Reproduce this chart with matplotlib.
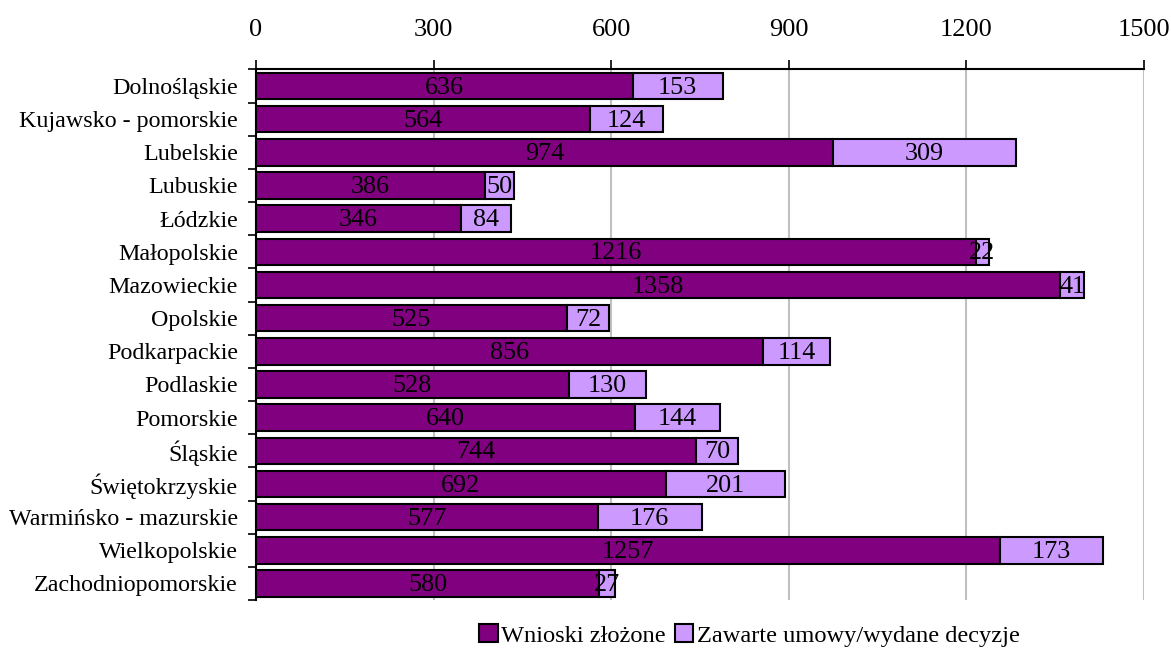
import matplotlib
matplotlib.use("Agg")
import matplotlib.pyplot as plt
import numpy as np

categories = ["Dolnośląskie", "Kujawsko - pomorskie", "Lubelskie", "Lubuskie", "Łódzkie",
              "Małopolskie", "Mazowieckie", "Opolskie", "Podkarpackie", "Podlaskie",
              "Pomorskie", "Śląskie", "Świętokrzyskie", "Warmińsko - mazurskie",
              "Wielkopolskie", "Zachodniopomorskie"]
wnioski = [636, 564, 974, 386, 346, 1216, 1358, 525, 856, 528, 640, 744, 692, 577, 1257, 580]
umowy = [153, 124, 309, 50, 84, 22, 41, 72, 114, 130, 144, 70, 201, 176, 173, 27]
series_names = ["Wnioski złożone", "Zawarte umowy/wydane decyzje"]
xticks = [0, 300, 600, 900, 1200, 1500]

plt.rcParams['font.family'] = ['Liberation Serif', 'DejaVu Serif']

fig = plt.figure(figsize=(11.71, 6.48), dpi=100)
ax = fig.add_axes([0.2186, 0.074, 0.977 - 0.2186, 0.893 - 0.074])

y = np.arange(len(categories))
c1, c2 = "#800080", "#CC99FF"
b1 = ax.barh(y, wnioski, height=0.8, color=c1, edgecolor="black", linewidth=1.5, label=series_names[0], zorder=3)
b2 = ax.barh(y, umowy, left=wnioski, height=0.8, color=c2, edgecolor="black", linewidth=1.5, label=series_names[1], zorder=3)
for bars in (b1, b2):
    texts = ax.bar_label(bars, label_type="center", fontsize=18.8, color="black", zorder=4)
    for t in texts:
        t.xyann = (0, -1.2)

ax.set_ylim(len(categories) - 0.5, -0.5)
ax.set_xlim(0, 1500)
ax.set_yticks(y)
ax.set_yticklabels(categories, fontsize=17.3)
ax.set_yticks(np.arange(-0.5, len(categories), 1), minor=True)
ax.tick_params(axis="y", which="major", length=0, pad=13)
ax.tick_params(axis="y", which="minor", length=6, width=1.2, direction="out")
ax.xaxis.tick_top()
ax.set_xticks(xticks)
ax.set_xticklabels([str(v) for v in xticks], fontsize=19)
ax.tick_params(axis="x", length=6.5, width=1.2, direction="out", pad=14)
ax.grid(axis="x", color="#c0c0c0", linewidth=1.5, zorder=0)
ax.spines["right"].set_visible(False)
ax.spines["bottom"].set_visible(False)
ax.spines["top"].set_linewidth(1.5)
ax.spines["left"].set_linewidth(1.5)

fig.legend(handles=[b1, b2], labels=series_names, loc="center", bbox_to_anchor=(0.64, 0.019),
           ncol=2, frameon=False, fontsize=17.6, handlelength=0.75, handleheight=0.75,
           handletextpad=0.15, columnspacing=0.35, borderaxespad=0)

fig.savefig("out.png", dpi=100)
